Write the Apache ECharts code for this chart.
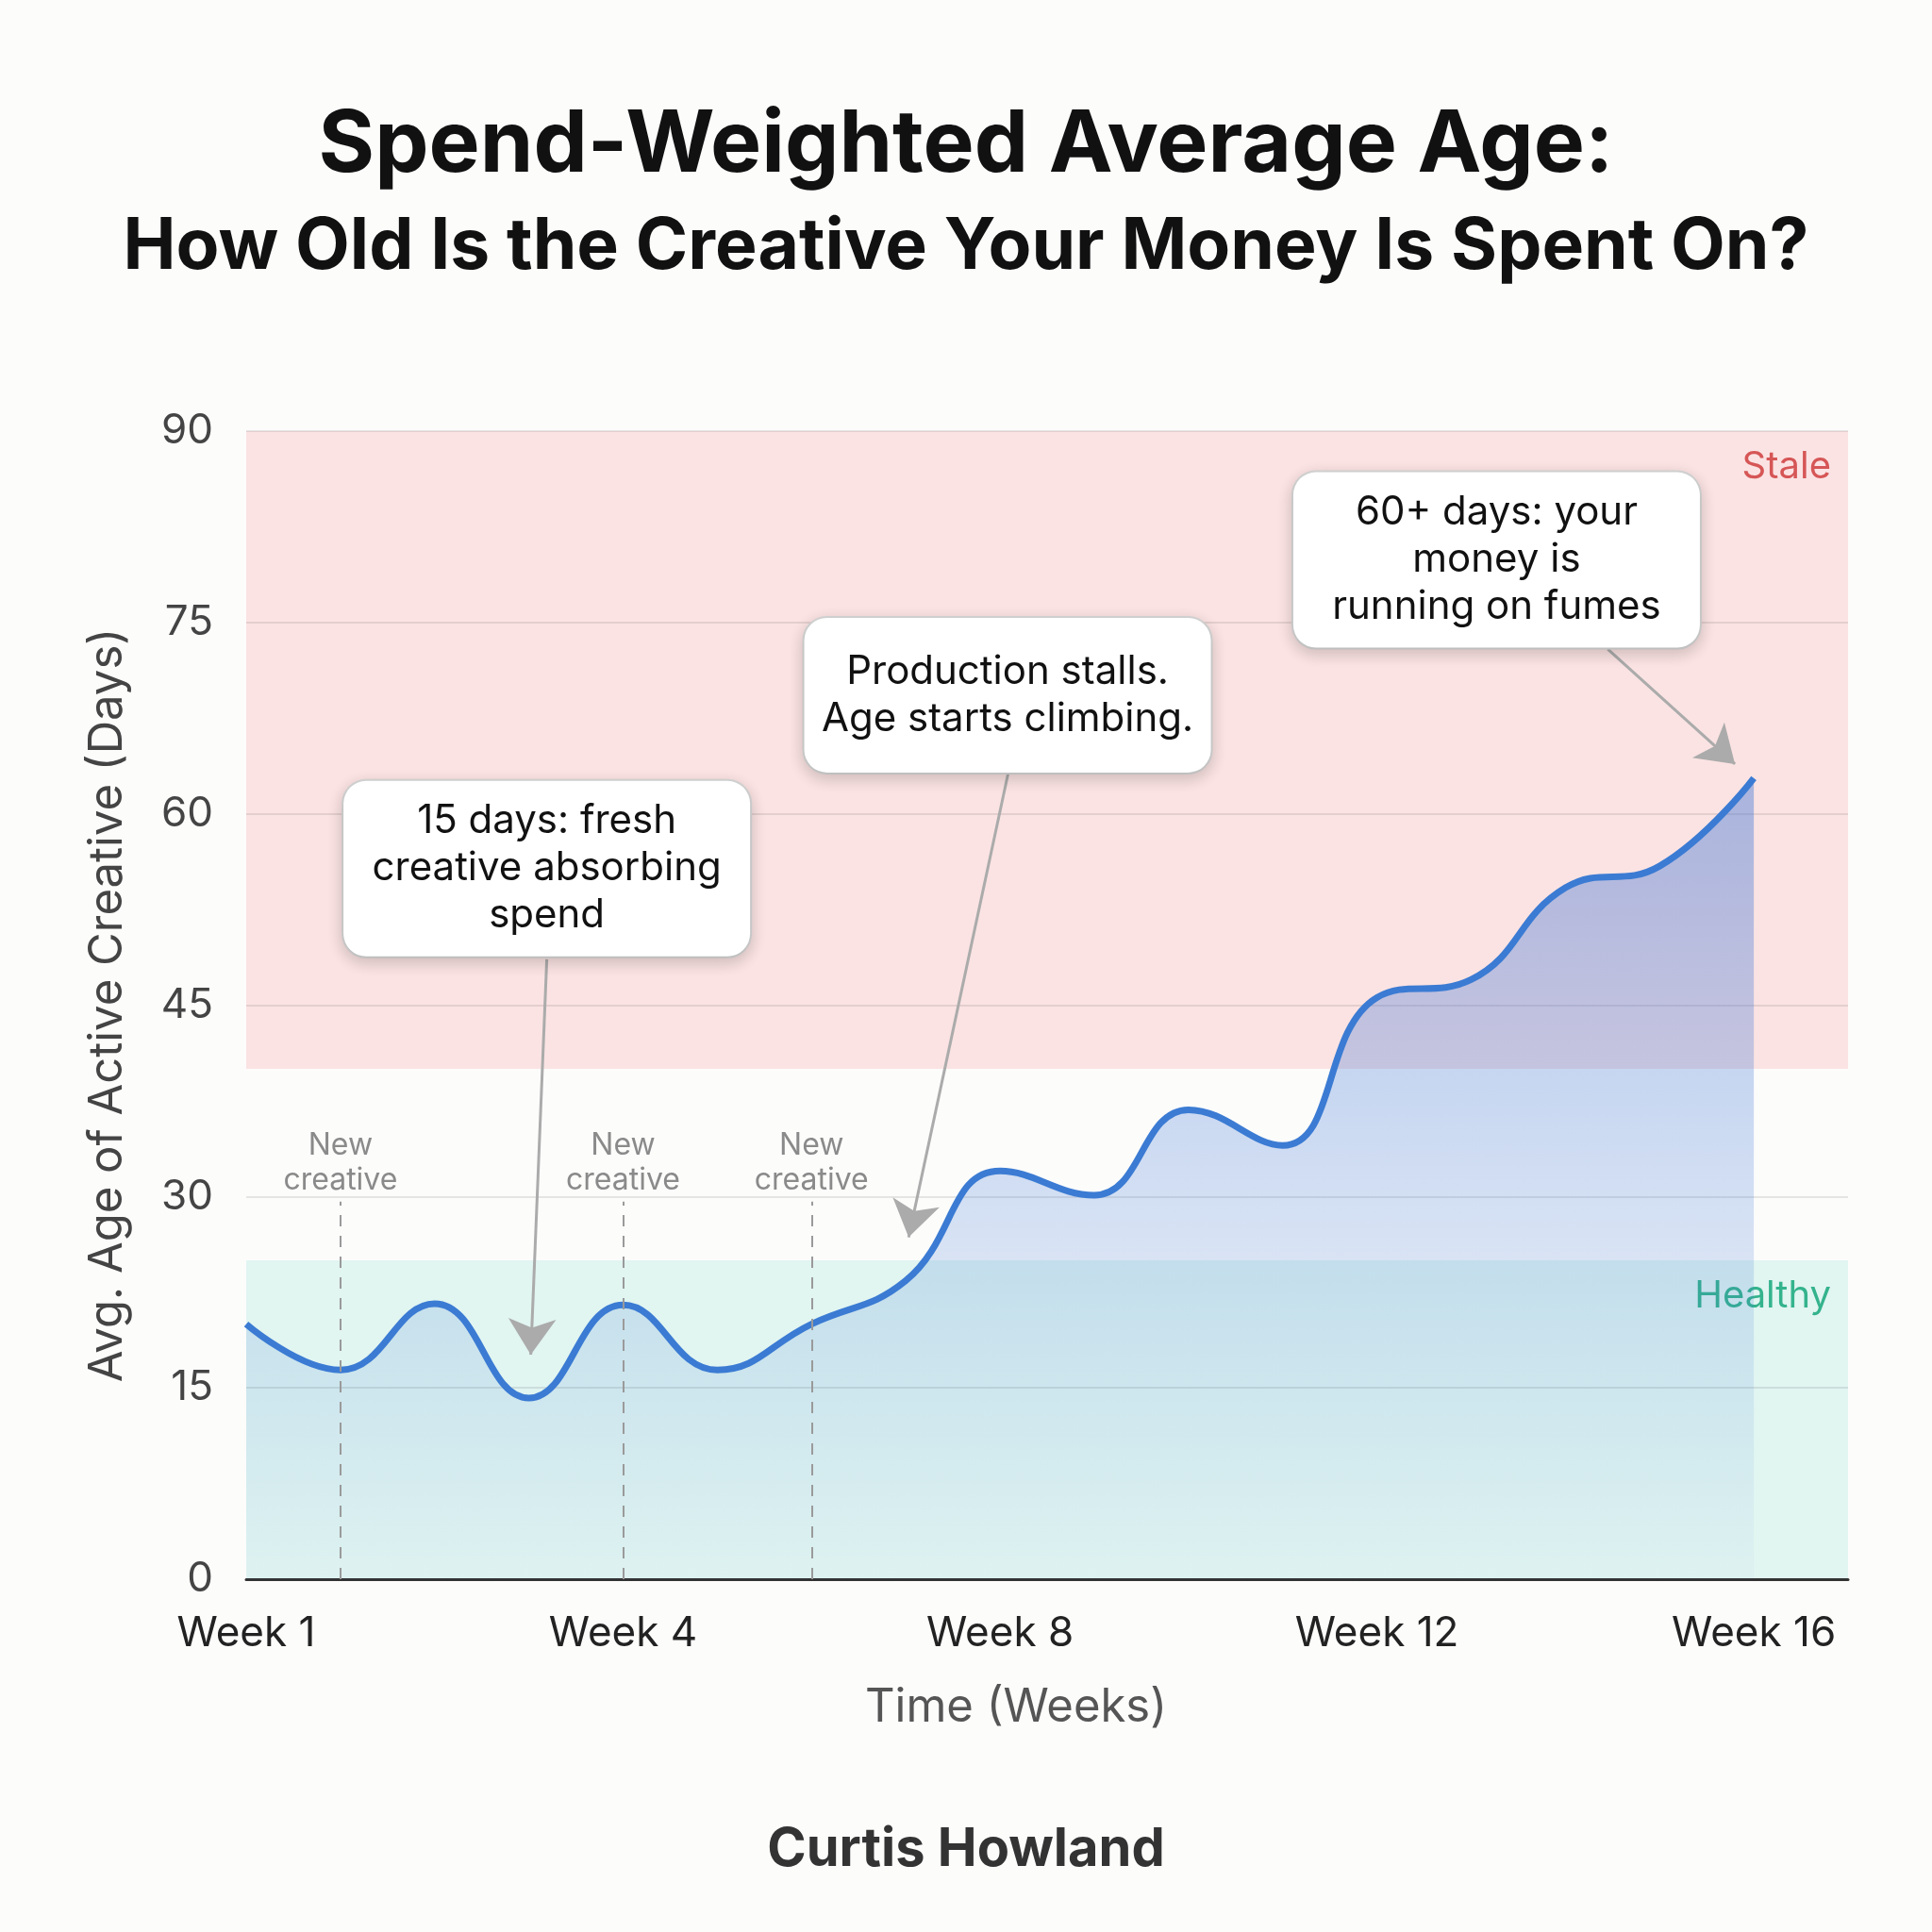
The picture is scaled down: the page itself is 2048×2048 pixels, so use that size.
<!DOCTYPE html>
<html>
<head>
<meta charset="utf-8">
<script src="https://cdn.jsdelivr.net/npm/echarts@6/dist/echarts.min.js"></script>
<style>
  html, body { margin: 0; padding: 0; background: #fcfcfb; }
  #chart { width: 2048px; height: 2048px; }
</style>
</head>
<body>
<div id="chart"></div>
<script>
// weeks on the x axis, 0..16 (first point labelled "Week 1")
const weeks = [0, 1, 2, 3, 4, 5, 6, 7, 8, 9, 10, 11, 12, 13, 14, 15, 16];
const avgAge = [20, 16.4, 21.6, 14.2, 21.5, 16.4, 20, 23.4, 32, 30.1, 36.8, 34, 45.6, 47, 54.2, 55.9, 62.8];

const xTickValues = [0, 4, 8, 12, 16];
const xTickLabels = ['Week 1', 'Week 4', 'Week 8', 'Week 12', 'Week 16'];

const yTicks = [0, 15, 30, 45, 60, 75, 90];

// zones
const staleZone = [40, 90];
const healthyZone = [0, 25];

// "New creative" markers: week, top of line
const newCreativeWeeks = [1, 4, 6];
const newCreativeTop = 29.6;

// callouts: box centre, arrow start, arrow tip (data coords)
const calloutTexts = [
  '15 days: fresh\ncreative absorbing\nspend',
  'Production stalls.\nAge starts climbing.',
  '60+ days: your\nmoney is\nrunning on fumes'
];
const calloutBox = [[3.19, 55.7], [8.08, 69.3], [13.27, 79.9]];
const arrowFrom = [[3.19, 48.6], [8.09, 63.3], [14.45, 72.9]];
const arrowTo = [[3.02, 17.6], [7.03, 26.8], [15.8, 63.9]];

const FONT = 'Inter, "Noto Sans", sans-serif';

const chart = echarts.init(document.getElementById('chart'));

chart.setOption({
  backgroundColor: '#fcfcfb',
  textStyle: { fontFamily: FONT },
  title: [
    {
      text: 'Spend-Weighted Average Age:',
      left: 'center', top: 104,
      textStyle: { fontSize: 91, fontWeight: 'bold', color: '#111', fontFamily: FONT }
    },
    {
      text: 'How Old Is the Creative Your Money Is Spent On?',
      left: 'center', top: 220,
      textStyle: { fontSize: 75, fontWeight: 'bold', color: '#111', fontFamily: FONT }
    },
    {
      text: 'Curtis Howland',
      left: 'center', top: 1928,
      textStyle: { fontSize: 56, fontWeight: 'bold', color: '#333', fontFamily: FONT }
    }
  ],
  grid: { left: 261, right: 89, top: 457, bottom: 374 },
  xAxis: {
    type: 'value',
    min: 0, max: 17, interval: 4,
    name: 'Time (Weeks)',
    nameLocation: 'middle',
    nameGap: 112,
    nameTextStyle: { fontSize: 49, color: '#555', fontFamily: FONT, padding: [0, 66, 0, 0] },
    axisLine: { show: true, lineStyle: { color: '#333', width: 3 } },
    axisTick: { show: false },
    splitLine: { show: false },
    axisLabel: {
      fontSize: 44, color: '#222', margin: 36, fontFamily: FONT,
      showMaxLabel: false,
      formatter: function (v) {
        const i = xTickValues.indexOf(v);
        return i >= 0 ? xTickLabels[i] : '';
      }
    },
    z: 2
  },
  yAxis: {
    type: 'value',
    min: yTicks[0], max: yTicks[yTicks.length - 1], interval: 15,
    name: 'Avg. Age of Active Creative (Days)',
    nameLocation: 'middle',
    nameGap: 122,
    nameTextStyle: { fontSize: 49, color: '#444', fontFamily: FONT },
    axisLine: { show: false },
    axisTick: { show: false },
    axisLabel: { fontSize: 44, color: '#444', margin: 35, fontFamily: FONT },
    splitLine: { lineStyle: { color: 'rgba(0,0,0,0.09)', width: 2 } },
    z: 2
  },
  series: [
    {
      name: 'zones',
      type: 'line',
      data: [],
      z: 1,
      silent: true,
      markArea: {
        silent: true,
        data: [
          [
            { yAxis: staleZone[0], itemStyle: { color: '#fbe3e3' },
              label: { show: true, position: 'insideTopRight', distance: 18,
                       formatter: 'Stale', color: '#d65656', fontSize: 40, fontFamily: FONT } },
            { yAxis: staleZone[1] }
          ],
          [
            { yAxis: healthyZone[0], itemStyle: { color: '#e1f5f1' },
              label: { show: true, position: 'insideTopRight', distance: 18,
                       formatter: 'Healthy', color: '#34b38c', fontSize: 40, fontFamily: FONT } },
            { yAxis: healthyZone[1] }
          ]
        ]
      }
    },
    {
      name: 'Avg. age',
      type: 'line',
      z: 3,
      smooth: 0.45,
      symbol: 'none',
      data: weeks.map((w, i) => [w, avgAge[i]]),
      lineStyle: { color: '#3b7bd3', width: 7 },
      areaStyle: {
        color: new echarts.graphic.LinearGradient(0, 0, 0, 1, [
          { offset: 0, color: 'rgba(62,118,214,0.62)' },
          { offset: 1, color: 'rgba(62,118,214,0.03)' }
        ])
      }
    },
    {
      name: 'new creative',
      type: 'line',
      data: [],
      z: 4,
      silent: true,
      markLine: {
        silent: true,
        symbol: ['none', 'none'],
        lineStyle: { color: '#9a9a9a', type: [12, 10], width: 2 },
        label: {
          show: true, position: 'end', distance: 4,
          formatter: 'New\ncreative', color: '#8a8a8a', fontSize: 32, lineHeight: 37, fontFamily: FONT
        },
        data: newCreativeWeeks.map(w => [{ coord: [w, 0] }, { coord: [w, newCreativeTop] }])
      }
    },
    {
      name: 'callouts',
      type: 'line',
      data: [],
      z: 5,
      silent: true,
      markLine: {
        silent: true,
        symbol: ['none', 'arrow'],
        symbolSize: 38,
        lineStyle: { color: '#ababab', type: 'solid', width: 3 },
        itemStyle: { color: '#ababab' },
        label: { show: false },
        data: arrowFrom.map((p, i) => [{ coord: p }, { coord: arrowTo[i] }])
      },
      markPoint: {
        silent: true,
        symbol: 'rect',
        symbolSize: 1,
        itemStyle: { color: 'rgba(0,0,0,0)' },
        label: {
          show: true,
          position: 'inside',
          color: '#111',
          fontSize: 42,
          lineHeight: 50,
          fontFamily: FONT,
          align: 'center',
          width: 371,
          backgroundColor: '#ffffff',
          borderColor: '#d6d6d6',
          borderWidth: 2,
          borderRadius: 24,
          shadowColor: 'rgba(0,0,0,0.16)',
          shadowBlur: 16,
          shadowOffsetY: 5
        },
        data: calloutBox.map((c, i) => {
          const lines = calloutTexts[i].split('\n').length;
          return {
            coord: c,
            value: calloutTexts[i],
            label: { formatter: calloutTexts[i], padding: lines > 2 ? [18, 30] : [32, 30] }
          };
        })
      }
    }
  ]
});
</script>
</body>
</html>
